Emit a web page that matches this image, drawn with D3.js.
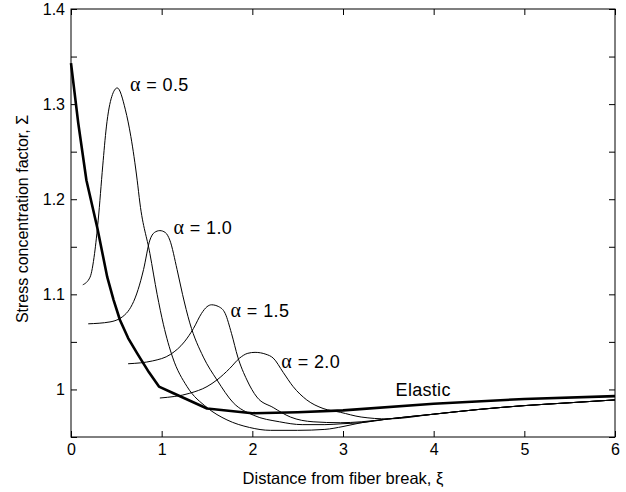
<!DOCTYPE html>
<html><head><meta charset="utf-8">
<script src="https://cdn.jsdelivr.net/npm/d3@7"></script>
<style>body{margin:0;background:#fff}svg{display:block}</style>
</head><body>
<script>
// ---- data ----
const xTicks = [0,1,2,3,4,5,6];
const yTicks = [0.95,1.0,1.05,1.1,1.15,1.2,1.25,1.3,1.35,1.4];
const yTickLabels = {"1":"1","1.1":"1.1","1.2":"1.2","1.3":"1.3","1.4":"1.4"};

const elasticX = [0, 0.08, 0.17, 0.29, 0.40, 0.47, 0.54, 0.63, 0.73, 0.86, 0.97, 1.13, 1.5, 2.0, 2.5, 3.0, 4.0, 5.0, 6.0];
const elasticY = [1.343, 1.280, 1.220, 1.170, 1.118, 1.094, 1.073, 1.054, 1.038, 1.018, 1.003, 0.996, 0.980, 0.975, 0.976, 0.978, 0.985, 0.990, 0.993];

const a05X = [0.13, 0.21, 0.26, 0.30, 0.35, 0.39, 0.45, 0.51, 0.60, 0.66, 0.73, 0.76, 0.87, 0.95, 1.02, 1.12, 1.28, 1.50, 1.72, 1.97, 2.2, 2.5, 2.8, 3.0, 3.2, 3.5, 4.0, 4.5, 5.0, 5.5, 6.0];
const a05Y = [1.110, 1.118, 1.143, 1.178, 1.235, 1.276, 1.308, 1.317, 1.294, 1.266, 1.220, 1.196, 1.143, 1.100, 1.068, 1.034, 1.003, 0.981, 0.968, 0.960, 0.957, 0.957, 0.958, 0.961, 0.965, 0.969, 0.974, 0.979, 0.983, 0.986, 0.989];

const a10X = [0.19, 0.43, 0.61, 0.74, 0.80, 0.87, 0.92, 0.98, 1.04, 1.09, 1.17, 1.23, 1.31, 1.46, 1.61, 1.79, 2.01, 2.3, 2.55, 2.8, 3.0, 3.2, 3.5, 4.0, 4.5, 5.0, 5.5, 6.0];
const a10Y = [1.069, 1.071, 1.080, 1.105, 1.126, 1.157, 1.165, 1.167, 1.165, 1.157, 1.126, 1.100, 1.070, 1.034, 1.010, 0.986, 0.973, 0.966, 0.963, 0.963, 0.964, 0.965, 0.969, 0.974, 0.979, 0.983, 0.986, 0.989];

const a15X = [0.63, 0.9, 1.1, 1.25, 1.35, 1.44, 1.50, 1.55, 1.63, 1.70, 1.77, 1.84, 1.94, 2.05, 2.23, 2.42, 2.67, 2.97, 3.2, 3.5, 4.0, 4.5, 5.0, 5.5, 6.0];
const a15Y = [1.027, 1.030, 1.037, 1.050, 1.064, 1.080, 1.087, 1.089, 1.087, 1.080, 1.059, 1.034, 1.010, 0.992, 0.981, 0.971, 0.966, 0.965, 0.966, 0.969, 0.974, 0.979, 0.983, 0.986, 0.989];

const a20X = [0.98, 1.31, 1.5, 1.61, 1.75, 1.86, 1.95, 2.03, 2.15, 2.23, 2.34, 2.45, 2.6, 2.78, 2.97, 3.2, 3.5, 4.0, 4.5, 5.0, 5.5, 6.0];
const a20Y = [0.991, 0.996, 1.003, 1.010, 1.022, 1.033, 1.038, 1.039, 1.037, 1.033, 1.018, 1.003, 0.989, 0.980, 0.976, 0.971, 0.969, 0.974, 0.979, 0.983, 0.986, 0.989];

const seriesNames = ["α = 0.5", "α = 1.0", "α = 1.5", "α = 2.0", "Elastic"];
const seriesX = [a05X, a10X, a15X, a20X, elasticX];
const seriesY = [a05Y, a10Y, a15Y, a20Y, elasticY];
// label anchor in data units
const labelX = [0.65, 1.13, 1.76, 2.32, 3.58];
const labelY = [1.314, 1.163, 1.076, 1.023, 0.993];

// ---- layout ----
const W = 626, H = 492;
const L = 71, R = 615, T = 9, B = 437;
const x = d3.scaleLinear().domain([0,6]).range([L,R]);
const y = d3.scaleLinear().domain([0.95,1.4]).range([B,T]);

const svg = d3.select("body").append("svg").attr("width",W).attr("height",H)
  .style("font-family","'Liberation Sans', Arial, Helvetica, sans-serif");

// frame
svg.append("rect").attr("x",L).attr("y",T).attr("width",R-L).attr("height",B-T)
  .attr("fill","none").attr("stroke","#000").attr("stroke-width",1);

const tl = 6;
const gx = svg.append("g").attr("transform",`translate(0,${B})`)
  .call(d3.axisBottom(x).tickValues(xTicks).tickSize(-tl).tickPadding(7).tickFormat(d3.format("d")));
const gxt = svg.append("g").attr("transform",`translate(0,${T})`)
  .call(d3.axisTop(x).tickValues(xTicks).tickSize(-tl).tickFormat(""));
const gy = svg.append("g").attr("transform",`translate(${L},0)`)
  .call(d3.axisLeft(y).tickValues(yTicks).tickSize(-tl).tickPadding(6)
    .tickFormat(d => yTickLabels[String(+d.toFixed(2))] || ""));
const gyr = svg.append("g").attr("transform",`translate(${R},0)`)
  .call(d3.axisRight(y).tickValues(yTicks).tickSize(-tl).tickFormat(""));
[gx,gxt,gy,gyr].forEach(g => {
  g.select(".domain").remove();
  g.selectAll("line").attr("stroke","#000");
  g.selectAll("text").attr("fill","#000").style("font-size","16px")
    .style("font-family","'Liberation Sans', Arial, sans-serif");
});

// curves
const smooth = d3.line().x(d=>x(d[0])).y(d=>y(d[1])).curve(d3.curveMonotoneX);
const straight = d3.line().x(d=>x(d[0])).y(d=>y(d[1])).curve(d3.curveLinear);
seriesX.forEach((xs,i) => {
  const pts = xs.map((v,j)=>[v, seriesY[i][j]]);
  svg.append("path").datum(pts).attr("d", i===4 ? straight : smooth)
    .attr("fill","none").attr("stroke","#000")
    .attr("stroke-width", i===4 ? 2.6 : 1)
    .attr("stroke-linejoin","round");
});

// labels
seriesNames.forEach((name,i) => {
  const t = svg.append("text").attr("x",x(labelX[i])).attr("y",y(labelY[i]))
    .attr("fill","#000").style("font-size","18px").style("letter-spacing", i===4 ? "0.3px" : "0.4px");
  if (name.startsWith("α")) {
    t.append("tspan").text("α").style("font-family","'Liberation Serif', serif").style("font-size","20px");
    t.append("tspan").text(name.slice(1));
  } else {
    t.text(name);
  }
});

// axis titles
svg.append("text").attr("x",(L+R)/2).attr("y",484).attr("text-anchor","middle")
  .attr("fill","#000").style("font-size","16.5px").text("Distance from fiber break, ξ");
svg.append("text").attr("transform","translate(28,219) rotate(-90)").attr("text-anchor","middle")
  .attr("fill","#000").style("font-size","16px").text("Stress concentration factor, Σ");
</script>
</body></html>
